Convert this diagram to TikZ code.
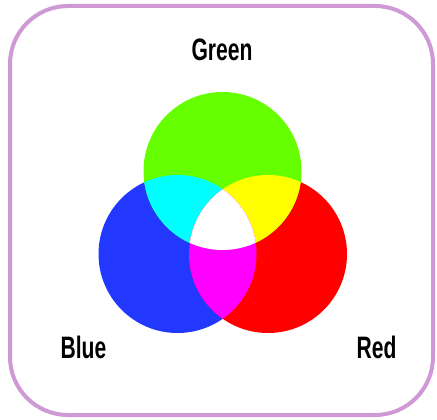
\documentclass[tikz,border=0pt]{standalone}
\usepackage{fontspec}
\setmainfont{Liberation Sans}
\newfontfamily\labelfont[FakeStretch=0.68]{Liberation Sans}
\usepackage{xcolor}
\definecolor{rgbgreen}{RGB}{102,255,0}
\definecolor{rgbblue}{RGB}{34,56,255}
\definecolor{rgbred}{RGB}{255,0,0}
\definecolor{rgbcyan}{RGB}{0,255,255}
\definecolor{rgbyellow}{RGB}{255,255,0}
\definecolor{rgbmagenta}{RGB}{255,0,255}
\definecolor{frameorchid}{RGB}{206,153,212}
\usetikzlibrary{positioning}

\tikzset{
  light/.style={circle, minimum size=158pt, inner sep=0pt, draw=none},
  lightlabel/.style={font=\labelfont\bfseries\fontsize{31}{31}\selectfont, anchor=base, inner sep=0pt}
}

\begin{document}
\begin{tikzpicture}[x=1pt, y=-1pt]
\useasboundingbox (0,0) rectangle (437,420);

% === Frame ===
\node[draw=frameorchid, line width=4pt, rounded corners=58pt,
      minimum width=423pt, minimum height=409pt, inner sep=0pt] (frame) at (221.5,210.5) {};

% === Primary lights ===
\node[light, fill=rgbblue]  (blue)  at (177.5,254) {};
\node[light, fill=rgbred]   (red)   at (268,254) {};
\node[light, fill=rgbgreen] (green) at (222.5,171) {};

% === Overlaps ===
\begin{scope}
  \clip (green.center) circle (79pt);
  \fill[rgbcyan] (blue.center) circle (79pt);
  \fill[rgbyellow] (red.center) circle (79pt);
\end{scope}
\begin{scope}
  \clip (blue.center) circle (79pt);
  \fill[rgbmagenta] (red.center) circle (79pt);
  \clip (red.center) circle (79pt);
  \fill[white] (green.center) circle (79pt);
\end{scope}

% === Labels ===
\node[lightlabel] (greenlabel) at (222,61) {Green};
\node[lightlabel] (bluelabel)  at (83.5,358) {Blue};
\node[lightlabel] (redlabel)   at (376.5,358) {Red};

\end{tikzpicture}
\end{document}
